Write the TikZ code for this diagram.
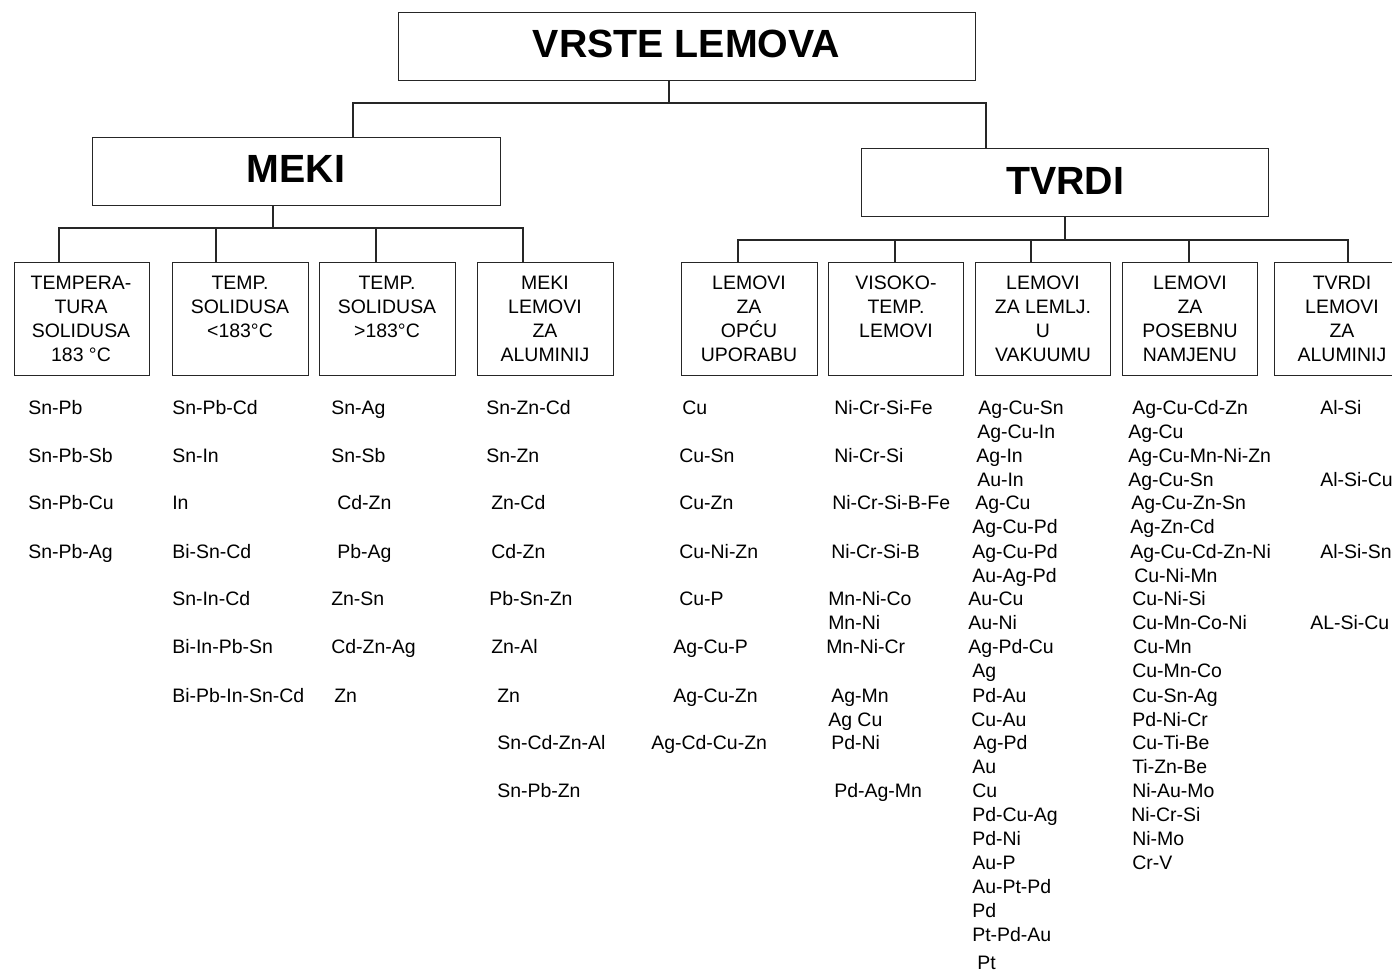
\documentclass[tikz,border=0pt]{standalone}
\usepackage{fontspec}
\setmainfont{Liberation Sans}
\begin{document}
\begin{tikzpicture}[x=0.75pt,y=-0.75pt,
  ln/.style={line width=0.8pt,draw=black!85},
  bx/.style={ln,rectangle,inner sep=0pt,anchor=north west},
  ttl/.style={font=\fontsize{29.5}{34}\selectfont\bfseries,inner sep=0pt},
  bt/.style={font=\fontsize{14.6}{18}\selectfont,align=center,anchor=north,inner sep=0pt},
  it/.style={font=\fontsize{14.6}{18}\selectfont,anchor=base west,inner sep=0pt}]
\useasboundingbox (0,0) rectangle (1392,971);
% title boxes
\node[bx,minimum width=577*0.75pt,minimum height=68*0.75pt] (top) at (398,12) {};
\node[ttl] (topt) at (686.5,44) {VRSTE LEMOVA};
\node[bx,minimum width=408*0.75pt,minimum height=68*0.75pt] (meki) at (92,137) {};
\node[ttl] (mekit) at (296,169) {MEKI};
\node[bx,minimum width=407*0.75pt,minimum height=68*0.75pt] (tvrdi) at (861,148) {};
\node[ttl] (tvrdit) at (1065,181) {TVRDI};
% level 1 connectors
\coordinate (j0) at (669,103);
\coordinate (sM) at (353,103);
\coordinate (sT) at (986,103);
\draw[ln] (j0 |- top.south) -- (j0);
\draw[ln] (sM |- meki.north) -- (sM) -- (sT) -- (sT |- tvrdi.north);
% children boxes
\foreach \n/\x/\w in {b1/14/135,b2/172/136,b3/319/136,b4/477/136,b5/681/136,b6/828/135,b7/975/135,b8/1122/135,b9/1274/136}{
  \node[bx,minimum width=\w*0.75pt,minimum height=113*0.75pt] (\n) at (\x,262) {};
}
\node[bt] (b1t) at (81,276) {TEMPERA-\\TURA\\SOLIDUSA\\183 °C};
\node[bt] (b2t) at (240,276) {TEMP.\\SOLIDUSA\\<183°C};
\node[bt] (b3t) at (387,276) {TEMP.\\SOLIDUSA\\>183°C};
\node[bt] (b4t) at (545,276) {MEKI\\LEMOVI\\ZA\\ALUMINIJ};
\node[bt] (b5t) at (749,276) {LEMOVI\\ZA\\OPĆU\\UPORABU};
\node[bt] (b6t) at (896,276) {VISOKO-\\TEMP.\\LEMOVI};
\node[bt] (b7t) at (1043,276) {LEMOVI\\ZA LEMLJ.\\U\\VAKUUMU};
\node[bt] (b8t) at (1190,276) {LEMOVI\\ZA\\POSEBNU\\NAMJENU};
\node[bt] (b9t) at (1342,276) {TVRDI\\LEMOVI\\ZA\\ALUMINIJ};
% meki connectors
\coordinate (jm) at (273,228);
\coordinate (m1) at (59,228);
\coordinate (m2) at (216,228);
\coordinate (m3) at (376,228);
\coordinate (m4) at (523,228);
\draw[ln] (jm |- meki.south) -- (jm);
\draw[ln] (m1 |- b1.north) -- (m1) -- (m4) -- (m4 |- b4.north);
\draw[ln] (m2) -- (m2 |- b2.north);
\draw[ln] (m3) -- (m3 |- b3.north);
% tvrdi connectors
\coordinate (jt) at (1065,240);
\coordinate (t5) at (738,240);
\coordinate (t6) at (895,240);
\coordinate (t7) at (1031,240);
\coordinate (t8) at (1189,240);
\coordinate (t9) at (1348,240);
\draw[ln] (jt |- tvrdi.south) -- (jt);
\draw[ln] (t5 |- b5.north) -- (t5) -- (t9) -- (t9 |- b9.north);
\draw[ln] (t6) -- (t6 |- b6.north);
\draw[ln] (t7) -- (t7 |- b7.north);
\draw[ln] (t8) -- (t8 |- b8.north);
% lists
\foreach \x/\y/\t [count=\i] in {
 28/407/Sn-Pb, 28/455/Sn-Pb-Sb, 28/502/Sn-Pb-Cu, 28/551/Sn-Pb-Ag,
 172/407/Sn-Pb-Cd, 172/455/Sn-In, 172/502/In, 172/551/Bi-Sn-Cd, 172/598/Sn-In-Cd, 172/646/Bi-In-Pb-Sn, 172/695/Bi-Pb-In-Sn-Cd,
 331/407/Sn-Ag, 331/455/Sn-Sb, 337/502/Cd-Zn, 337/551/Pb-Ag, 331/598/Zn-Sn, 331/646/Cd-Zn-Ag, 334/695/Zn,
 486/407/Sn-Zn-Cd, 486/455/Sn-Zn, 491/502/Zn-Cd, 491/551/Cd-Zn, 489/598/Pb-Sn-Zn, 491/646/Zn-Al, 497/695/Zn, 497/742/Sn-Cd-Zn-Al, 497/790/Sn-Pb-Zn,
 682/407/Cu, 679/455/Cu-Sn, 679/502/Cu-Zn, 679/551/Cu-Ni-Zn, 679/598/Cu-P, 673/646/Ag-Cu-P, 673/695/Ag-Cu-Zn, 651/742/Ag-Cd-Cu-Zn,
 834/407/Ni-Cr-Si-Fe, 834/455/Ni-Cr-Si, 832/502/Ni-Cr-Si-B-Fe, 831/551/Ni-Cr-Si-B, 828/598/Mn-Ni-Co, 828/622/Mn-Ni, 826/646/Mn-Ni-Cr, 831/695/Ag-Mn, 828/719/Ag Cu, 831/742/Pd-Ni, 834/790/Pd-Ag-Mn,
 978/407/Ag-Cu-Sn, 977/431/Ag-Cu-In, 976/455/Ag-In, 977/479/Au-In, 975/502/Ag-Cu, 972/526/Ag-Cu-Pd, 972/551/Ag-Cu-Pd, 972/575/Au-Ag-Pd, 968/598/Au-Cu, 968/622/Au-Ni, 968/646/Ag-Pd-Cu, 972/670/Ag, 972/695/Pd-Au, 971/719/Cu-Au, 973/742/Ag-Pd, 972/766/Au, 972/790/Cu, 972/814/Pd-Cu-Ag, 972/838/Pd-Ni, 972/862/Au-P, 972/886/Au-Pt-Pd, 972/910/Pd, 972/934/Pt-Pd-Au, 977/962/Pt,
 1132/407/Ag-Cu-Cd-Zn, 1128/431/Ag-Cu, 1128/455/Ag-Cu-Mn-Ni-Zn, 1128/479/Ag-Cu-Sn, 1131/502/Ag-Cu-Zn-Sn, 1130/526/Ag-Zn-Cd, 1130/551/Ag-Cu-Cd-Zn-Ni, 1134/575/Cu-Ni-Mn, 1132/598/Cu-Ni-Si, 1132/622/Cu-Mn-Co-Ni, 1133/646/Cu-Mn, 1132/670/Cu-Mn-Co, 1132/695/Cu-Sn-Ag, 1132/719/Pd-Ni-Cr, 1132/742/Cu-Ti-Be, 1132/766/Ti-Zn-Be, 1132/790/Ni-Au-Mo, 1131/814/Ni-Cr-Si, 1132/838/Ni-Mo, 1132/862/Cr-V,
 1320/407/Al-Si, 1320/479/Al-Si-Cu, 1320/551/Al-Si-Sn, 1310/622/AL-Si-Cu}{
  \node[it] (it\i) at (\x,\y+7) {\t};
}
\end{tikzpicture}
\end{document}
